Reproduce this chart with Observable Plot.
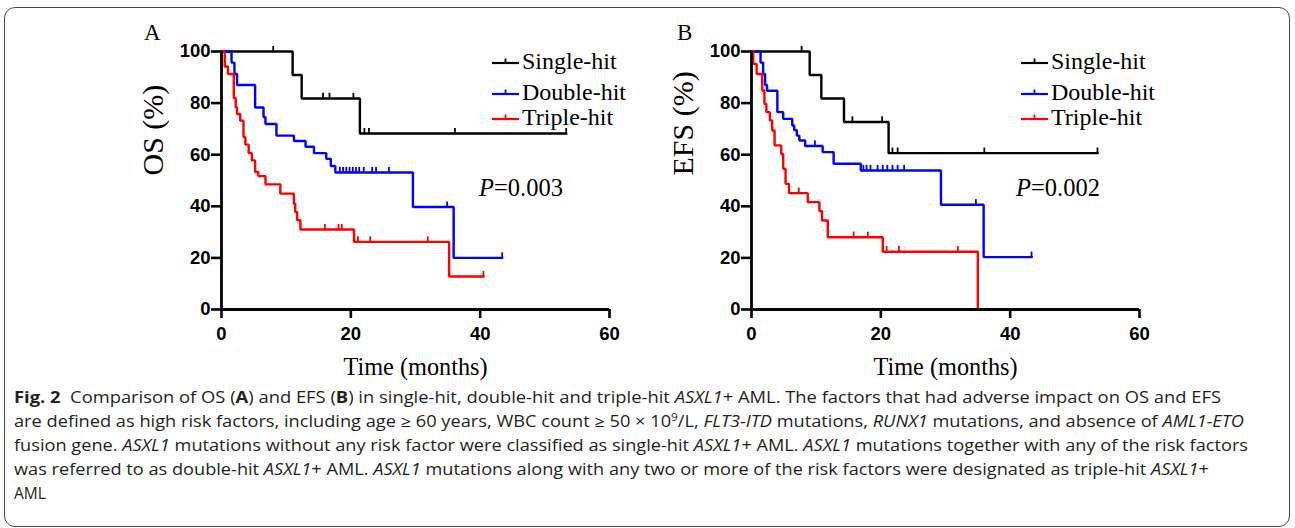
<!DOCTYPE html>
<html>
<head>
<meta charset="utf-8">
<script src="https://cdn.jsdelivr.net/npm/d3@7"></script>
<script src="https://cdn.jsdelivr.net/npm/@observablehq/plot@0.6"></script>
<style>
  html, body { margin: 0; padding: 0; background: #fff; }
  body { width: 1295px; height: 528px; overflow: hidden; position: relative; }
  #box { position: absolute; left: 4px; top: 7px; width: 1286px; height: 520px; box-sizing: border-box;
         border: 1px solid #4a4a4a; border-radius: 11px; }
  .abs { position: absolute; white-space: nowrap; }
  .serif { font-family: "Liberation Serif", "Times New Roman", serif; color: #000; }
  .panel { font-size: 23px; line-height: 28px; }
  .leg { display: flex; align-items: center; height: 30px; font-size: 24px; line-height: 30px; }
  .leg svg { margin-right: 2px; }
  .pval { font-size: 24.5px; line-height: 30px; }
  .cap { font-family: "Open Sans", "Noto Sans", sans-serif; font-size: 15.5px; line-height: 24px; color: #231f20;
         transform-origin: 0 50%; }
  .cap b { font-weight: 700; }
  .cap i { font-style: italic; }
  sup { font-size: 0.65em; line-height: 0; vertical-align: 0.55em; }
</style>
</head>
<body>
<div id="box"></div>
<script>
// ---------------- data ----------------
const groups = ["Single-hit", "Double-hit", "Triple-hit"];
const groupColors = ["#000000", "#0000ff", "#ff0000"];
const monthTicks = [0, 20, 40, 60];
const pctTicks = [0, 20, 40, 60, 80, 100];
const xTitle = "Time (months)";
const panelLetters = ["A", "B"];
const yTitles = ["OS (%)", "EFS (%)"];
const pValues = ["0.003", "0.002"];

// OS (panel A): event times (months) and survival (%) after each step
const osSingleTime = [0, 11.0, 12.4, 21.4];
const osSingleSurv = [100, 90.9, 81.8, 68.2];
const osSingleCensor = [8.0, 15.7, 16.7, 20.4, 22.1, 22.8, 36.1, 53.3];

const osDoubleTime = [0, 1.55, 2.0, 2.4, 5.2, 6.5, 6.8, 8.5, 11.2, 13.0, 14.3, 16.2, 16.9, 17.6, 29.6, 35.9];
const osDoubleSurv = [100, 95.7, 91.3, 87.0, 78.3, 74.5, 71.9, 67.4, 65.3, 63.1, 60.6, 58.4, 55.6, 53.1, 39.7, 20.0];
const osDoubleCensor = [18.3, 18.8, 19.3, 19.8, 20.3, 20.8, 21.3, 22.0, 23.3, 23.9, 25.9, 34.9, 43.4];

const osTripleTime = [0, 0.5, 1.0, 1.9, 2.2, 2.4, 2.9, 3.4, 3.7, 4.2, 4.7, 5.2, 5.7, 6.8, 9.1, 11.2, 11.4, 11.7, 12.2, 20.5, 35.2];
const osTripleSurv = [100, 94.2, 91.3, 82.0, 78.4, 75.8, 73.2, 66.8, 63.9, 60.6, 57.8, 53.3, 51.7, 48.5, 44.9, 41.0, 37.8, 34.6, 31.0, 26.2, 12.8];
const osTripleCensor = [16.0, 18.1, 18.6, 21.1, 23.0, 31.9, 40.5];

// EFS (panel B)
const efsSingleTime = [0, 9.0, 10.8, 14.3, 21.2];
const efsSingleSurv = [100, 90.9, 81.8, 72.7, 60.6];
const efsSingleCensor = [7.75, 15.6, 20.2, 21.8, 22.6, 36.0, 53.5];

const efsDoubleTime = [0, 1.4, 1.8, 2.1, 2.4, 4.0, 4.9, 6.3, 6.6, 7.0, 7.4, 8.3, 11.0, 12.7, 16.9, 29.3, 35.9];
const efsDoubleSurv = [100, 95.7, 91.3, 87.0, 84.8, 76.5, 73.9, 71.3, 69.6, 67.4, 65.5, 63.4, 61.0, 56.5, 53.9, 40.6, 20.3];
const efsDoubleCensor = [9.8, 17.3, 17.8, 18.4, 19.5, 20.3, 21.0, 21.8, 22.6, 23.6, 34.7, 43.3];

const efsTripleTime = [0, 0.26, 0.8, 1.66, 2.0, 2.3, 2.84, 3.2, 3.57, 4.6, 4.9, 5.27, 5.8, 8.7, 10.5, 10.9, 11.8, 20.3, 35.0];
const efsTripleSurv = [100, 95.2, 91.3, 84.9, 79.7, 76.5, 73.3, 69.4, 63.6, 60.3, 54.5, 48.7, 45.1, 41.6, 38.2, 34.5, 28.0, 22.4, 0];
const efsTripleCensor = [7.3, 15.8, 18.0, 20.9, 22.8, 31.9];

const panels = [
  { series: [[osSingleTime, osSingleSurv, osSingleCensor], [osDoubleTime, osDoubleSurv, osDoubleCensor], [osTripleTime, osTripleSurv, osTripleCensor]] },
  { series: [[efsSingleTime, efsSingleSurv, efsSingleCensor], [efsDoubleTime, efsDoubleSurv, efsDoubleCensor], [efsTripleTime, efsTripleSurv, efsTripleCensor]] }
];

// ---------------- helpers ----------------
function stepAt(times, surv, t) {
  let v = surv[0];
  for (let i = 0; i < times.length; i++) if (times[i] <= t) v = surv[i];
  return v;
}
const tickUp = {
  draw(ctx, size) {
    const h = Math.sqrt(size / Math.PI) * 1.7;
    ctx.moveTo(0, 0); ctx.lineTo(0, -h);
  }
};

function buildPanel(p, idx) {
  const lines = [], cens = [];
  p.series.forEach(([times, surv, censor], gi) => {
    const g = groups[gi];
    times.forEach((t, i) => lines.push({ g, t, s: surv[i] }));
    const lastT = times[times.length - 1];
    const maxC = Math.max(...censor);
    if (maxC > lastT) lines.push({ g, t: maxC, s: surv[surv.length - 1] });
    censor.forEach(t => cens.push({ g, t, s: stepAt(times, surv, t) }));
  });
  return Plot.plot({
    width: 530, height: 370,
    marginLeft: 91, marginRight: 51, marginTop: 36, marginBottom: 76,
    x: { domain: [0, 60] },
    y: { domain: [0, 100] },
    color: { domain: groups, range: groupColors },
    style: { fontFamily: "'Liberation Sans', Arial, sans-serif", color: "#000", background: "transparent", overflow: "visible" },
    marks: [
      Plot.line(lines, { x: "t", y: "s", z: "g", stroke: "g", curve: "step-after", strokeWidth: 2.4, strokeLinejoin: "miter", strokeLinecap: "square" }),
      Plot.dot(cens, { x: "t", y: "s", stroke: "g", symbol: tickUp, r: 3.3, strokeWidth: 1.8, fill: "none" }),
      Plot.ruleX([0], { strokeWidth: 2.8 }),
      Plot.ruleY([0], { strokeWidth: 2.8 }),
      Plot.axisX({ ticks: monthTicks, tickSize: 9, tickPadding: 8, fontSize: 18.5, fontWeight: "bold", strokeWidth: 2.6, label: null, tickFormat: d => String(d) }),
      Plot.axisY({ ticks: pctTicks, tickSize: 10, tickPadding: 1, fontSize: 18.5, fontWeight: "bold", strokeWidth: 2.6, label: null, tickFormat: d => String(d) }),
      Plot.text([xTitle], { text: d => d, frameAnchor: "bottom", dy: 65, fontSize: 24.3, fontFamily: "'Liberation Serif', 'Times New Roman', serif" }),
      Plot.text([yTitles[idx]], { text: d => d, frameAnchor: "left", dx: -68, dy: -5, rotate: -90, fontSize: 30, fontFamily: "'Liberation Serif', 'Times New Roman', serif" })
    ]
  });
}

// ---------------- layout ----------------
const svgLefts = [130, 660];
panels.forEach((p, idx) => {
  const svg = buildPanel(p, idx);
  svg.style.position = "absolute";
  svg.style.left = svgLefts[idx] + "px";
  svg.style.top = "15px";
  document.body.appendChild(svg);
});

function addDiv(cls, left, top, html) {
  const d = document.createElement("div");
  d.className = "abs " + cls;
  d.style.left = left + "px";
  d.style.top = top + "px";
  d.innerHTML = html;
  document.body.appendChild(d);
  return d;
}

// panel letters
addDiv("serif panel", 144, 19, panelLetters[0]);
addDiv("serif panel", 677, 19, panelLetters[1]);

// legends
const legendLefts = [492, 1021];
const legendRows = [63, 94, 119];
legendLefts.forEach(lx => {
  groups.forEach((g, gi) => {
    const sw = `<svg width="28" height="10" style="overflow:visible"><line x1="0" y1="7" x2="27" y2="7" stroke="${groupColors[gi]}" stroke-width="2.2"/><line x1="13.5" y1="7" x2="13.5" y2="2.5" stroke="${groupColors[gi]}" stroke-width="1.8"/></svg>`;
    addDiv("serif leg", lx, legendRows[gi] - 17, sw + `<span>${g}</span>`);
  });
});

// p values
addDiv("serif pval", 479, 173, `<i>P</i>=${pValues[0]}`);
addDiv("serif pval", 1016, 173, `<i>P</i>=${pValues[1]}`);

// caption
const captionLines = [
  `<b>Fig. 2</b>&nbsp; Comparison of OS (<b>A</b>) and EFS (<b>B</b>) in single-hit, double-hit and triple-hit <i>ASXL1</i>+ AML. The factors that had adverse impact on OS and EFS`,
  `are defined as high risk factors, including age &#8805; 60 years, WBC count &#8805; 50 &times; 10<sup>9</sup>/L, <i>FLT3-ITD</i> mutations, <i>RUNX1</i> mutations, and absence of <i>AML1-ETO</i>`,
  `fusion gene. <i>ASXL1</i> mutations without any risk factor were classified as single-hit <i>ASXL1</i>+ AML. <i>ASXL1</i> mutations together with any of the risk factors`,
  `was referred to as double-hit <i>ASXL1</i>+ AML. <i>ASXL1</i> mutations along with any two or more of the risk factors were designated as triple-hit <i>ASXL1</i>+`,
  `AML`
];
const captionRight = [1221, 1244, 1248, 1209, null];
const captionCenters = [397, 421, 445, 469, 493];
const capLeft = 14;
captionLines.forEach((html, i) => {
  const d = addDiv("cap", capLeft, captionCenters[i] - 12, html);
  if (captionRight[i]) {
    const w = d.getBoundingClientRect().width;
    const s = (captionRight[i] - capLeft) / w;
    d.style.transform = `scaleX(${s})`;
    d.dataset.scale = s;
  }
});
</script>
</body>
</html>
